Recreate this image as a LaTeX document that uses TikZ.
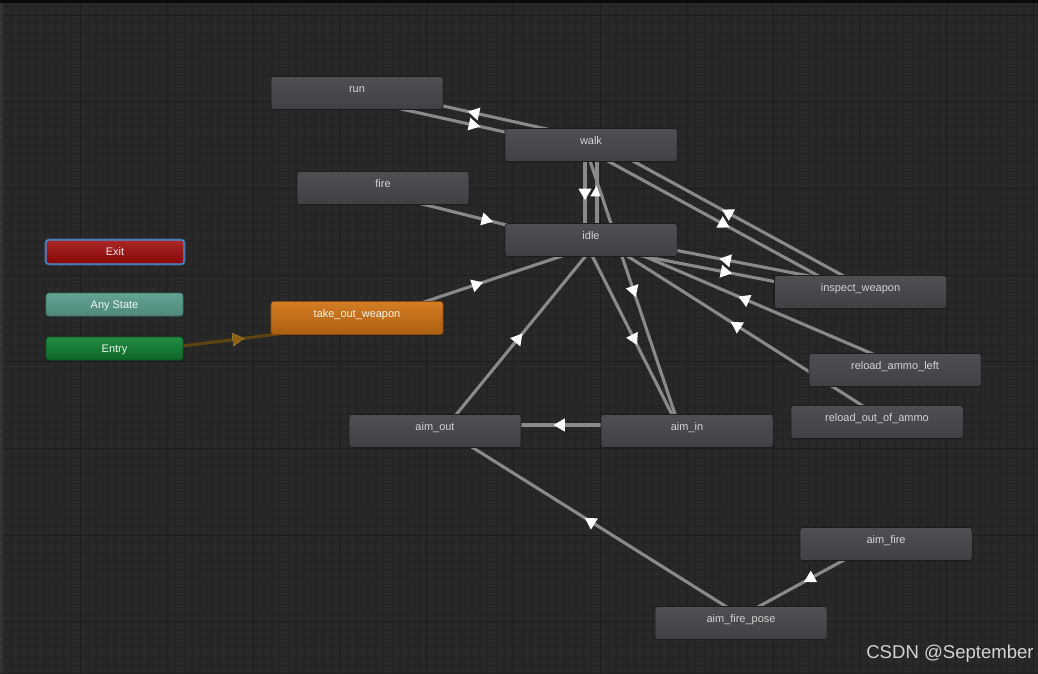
\documentclass[tikz,border=0pt]{standalone}
\usepackage{fontspec}
\setmainfont{Liberation Sans}
\usetikzlibrary{calc, decorations.markings}

\definecolor{canvas}{HTML}{282828}
\definecolor{minorline}{HTML}{222222}
\definecolor{majorline}{HTML}{1C1C1C}
\definecolor{sidestrip}{HTML}{343434}
\definecolor{statetop}{HTML}{4D4F53}
\definecolor{statebot}{HTML}{404145}
\definecolor{labelgrey}{HTML}{D4D4D4}
\definecolor{edgegrey}{HTML}{8A8A8A}
\definecolor{exittop}{HTML}{A82828}
\definecolor{exitbot}{HTML}{870606}
\definecolor{glowblue}{HTML}{4A93E0}
\definecolor{anytop}{HTML}{62A394}
\definecolor{anybot}{HTML}{4E897B}
\definecolor{entrytop}{HTML}{218C42}
\definecolor{entrybot}{HTML}{0D6728}
\definecolor{takeouttop}{HTML}{D37D22}
\definecolor{takeoutbot}{HTML}{AD5E11}
\definecolor{entryedge}{HTML}{5E4210}
\definecolor{entrytip}{HTML}{8E600C}

\pgfdeclarelayer{grid}
\pgfdeclarelayer{edges}
\pgfsetlayers{grid,edges,main}

% one transition, shifted to the right of its direction, tip in the middle
\newcommand*{\trans}[3][]{\draw[transition,#1] ($(#2)!0.15cm!-90:(#3)$) -- ($(#3)!0.15cm!90:(#2)$);}

\begin{document}
\begin{tikzpicture}[
      x=0.025cm, y=-0.025cm, font=\fontsize{7.8}{9}\selectfont,
      state/.style={rectangle, rounded corners=2pt, minimum width=4.3cm, inner ysep=0pt,
        text height=0.41cm, text depth=0.415cm, top color=statetop, bottom color=statebot,
        draw=black!55!statebot, line width=0.4pt, text=labelgrey},
      special/.style={rectangle, rounded corners=2pt, minimum width=3.425cm, minimum height=0.575cm,
        inner ysep=0pt, text height=5.6pt, text depth=0pt, line width=0.4pt},
      midtip/.style={postaction={decorate, decoration={markings,
        mark=at position 0.5 with {\fill[#1] (7.5,0) -- (-3.8,6.6) -- (-3.8,-6.6) -- cycle;}}}},
      transition/.style={draw=edgegrey, line width=2.2pt, midtip=white},
      minorgrid/.style={draw=minorline, line width=0.45pt},
      majorgrid/.style={draw=majorline, line width=0.7pt},
      ]

      \useasboundingbox (0,0) rectangle (1038,673);

      % grey states
      \node[state] (run)        at (357,93)    {run};
      \node[state] (walk)       at (591,145)   {walk};
      \node[state] (fire)       at (383,188)   {fire};
      \node[state] (idle)       at (591,240)   {idle};
      \node[state] (inspect)    at (860.5,292) {inspect\_weapon};
      \node[state] (reloadleft) at (895,370)   {reload\_ammo\_left};
      \node[state] (reloadout)  at (877,422)   {reload\_out\_of\_ammo};
      \node[state] (aimout)     at (435,431)   {aim\_out};
      \node[state] (aimin)      at (687,431)   {aim\_in};
      \node[state] (aimfire)    at (886,544)   {aim\_fire};
      \node[state] (firepose)   at (741,623)   {aim\_fire\_pose};
      \node[state, top color=takeouttop, bottom color=takeoutbot, draw=takeoutbot!80!black,
            text=white!92!takeouttop] (takeout) at (357,318) {take\_out\_weapon};

      % special states
      \node[special, minimum width=3.45cm, minimum height=0.6cm, top color=exittop, bottom color=exitbot,
            draw=glowblue, line width=0.8pt, text=white!88!exittop,
            preaction={draw=glowblue!40!canvas, line width=2.4pt}] (exit) at (115,252) {Exit};
      \node[special, top color=anytop, bottom color=anybot, draw=anybot!80!black,
            text=white!92!anytop] (anystate) at (114.5,304.5) {Any State};
      \node[special, top color=entrytop, bottom color=entrybot, draw=entrybot!80!black,
            text=white!92!entrytop] (entry) at (114.5,348.5) {Entry};

      \node[text=white!80!canvas, font=\fontsize{13.2}{15}\selectfont] (wm) at (950,654) {CSDN @September};

      \begin{pgfonlayer}{grid}
        \fill[canvas] (0,0) rectangle (1038,673);
        \foreach \k in {0,...,119} \draw[minorgrid] ({2+8.6667*\k},0) -- ++(0,673);
        \foreach \k in {0,...,77} \draw[minorgrid] (0,{6.33+8.6667*\k}) -- ++(1038,0);
        \foreach \k in {0,...,11} \draw[majorgrid] ({80+86.667*\k},0) -- ++(0,673);
        \foreach \k in {0,...,7} \draw[majorgrid] (0,{15+86.667*\k}) -- ++(1038,0);
        \fill[sidestrip] (0,0) rectangle (3,673);
        \fill[black!75!canvas] (0,0) rectangle (1038,3);
      \end{pgfonlayer}

      \begin{pgfonlayer}{edges}
        \trans{walk}{run}
        \trans{run}{walk}
        \trans{fire}{idle}
        \trans{walk}{idle}
        \trans{idle}{walk}
        \trans{walk}{inspect}
        \trans{inspect}{walk}
        \trans{idle}{inspect}
        \trans{inspect}{idle}
        \trans{takeout}{idle}
        \trans{reloadleft}{idle}
        \trans{reloadout}{idle}
        \trans{aimout}{idle}
        \trans{idle}{aimin}
        \trans{walk}{aimin}
        \trans{aimin}{aimout}
        \trans{firepose}{aimout}
        \trans{aimfire}{firepose}
        \trans[draw=entryedge, midtip=entrytip]{entry}{takeout}
      \end{pgfonlayer}
    \end{tikzpicture}
\end{document}
